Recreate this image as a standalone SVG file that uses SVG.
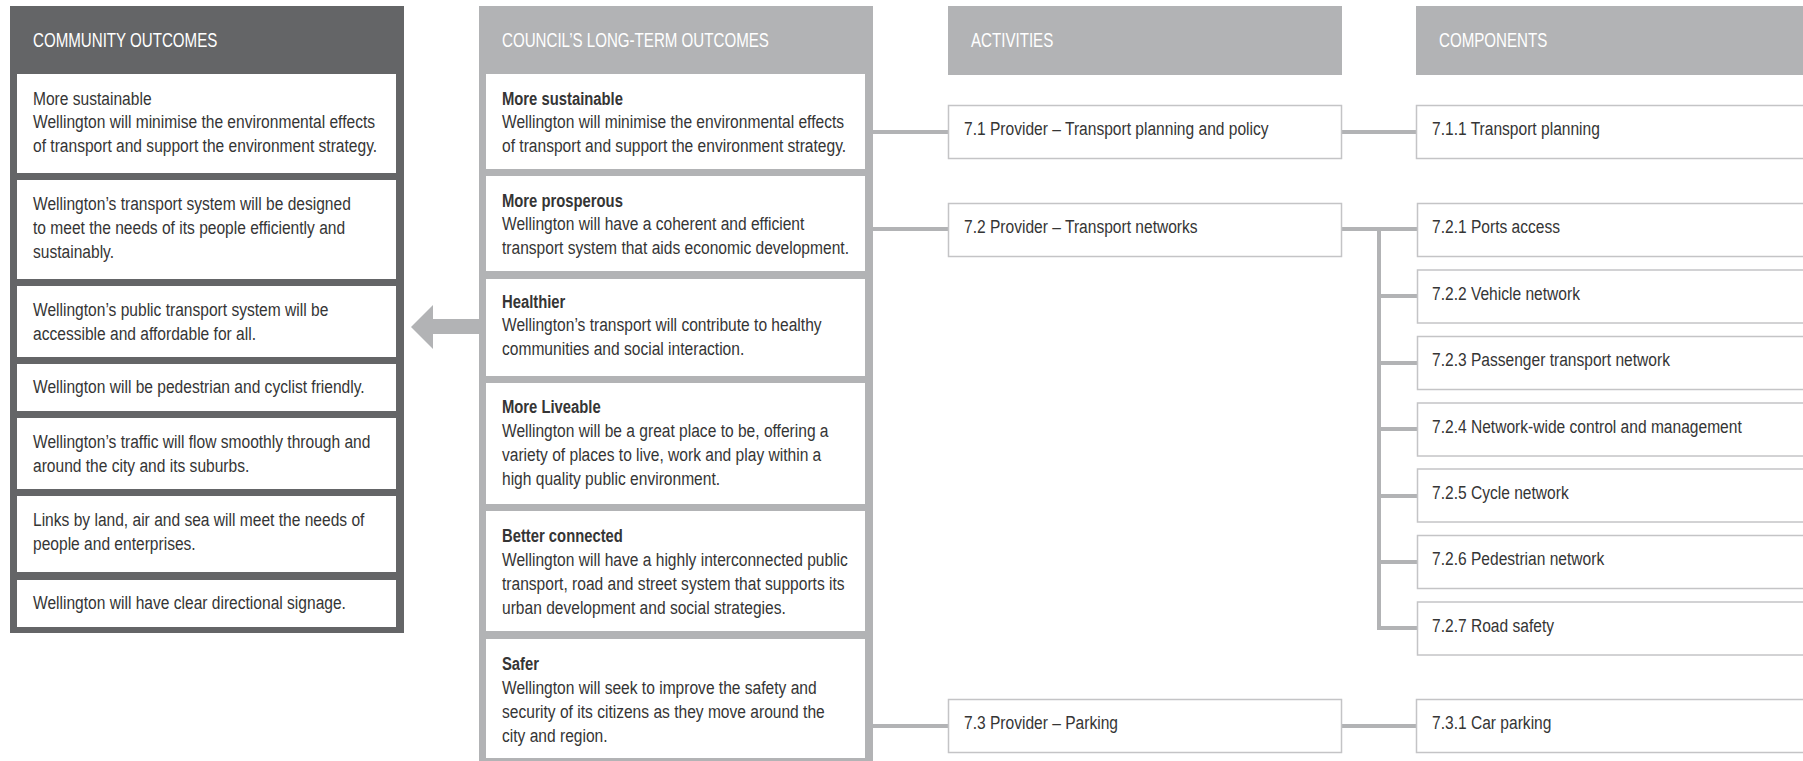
<svg xmlns="http://www.w3.org/2000/svg" width="1803" height="761" viewBox="0 0 1803 761">
<style>
text{font-family:"Liberation Sans",Arial,sans-serif;font-size:19px;fill:#353535;transform:scaleX(0.82);transform-box:fill-box;transform-origin:0 0}
.hd{font-size:21px;fill:#ffffff;transform:scaleX(0.72)}
.b{font-weight:bold;transform:scaleX(0.78)}
.wb{fill:#ffffff}
.box{fill:#ffffff;stroke:#c4c4c6;stroke-width:1.5}
.con{stroke:#b2b3b5;stroke-width:4;fill:none}
</style>
<rect width="1803" height="761" fill="#ffffff"/>

<g id="community-outcomes">
<rect x="10" y="6" width="394" height="627" fill="#646567"/>
<text class="hd" x="33" y="47">COMMUNITY OUTCOMES</text>
<rect class="wb" x="17" y="74" width="379" height="99"/>
<text x="33" y="105">More sustainable</text>
<text x="33" y="128.5">Wellington will minimise the environmental effects</text>
<text x="33" y="152">of transport and support the environment strategy.</text>
<rect class="wb" x="17" y="180" width="379" height="99"/>
<text x="33" y="210">Wellington’s transport system will be designed</text>
<text x="33" y="234">to meet the needs of its people efficiently and</text>
<text x="33" y="258">sustainably.</text>
<rect class="wb" x="17" y="286" width="379" height="71"/>
<text x="33" y="316">Wellington’s public transport system will be</text>
<text x="33" y="340">accessible and affordable for all.</text>
<rect class="wb" x="17" y="364" width="379" height="47"/>
<text x="33" y="393">Wellington will be pedestrian and cyclist friendly.</text>
<rect class="wb" x="17" y="418" width="379" height="71"/>
<text x="33" y="448">Wellington’s traffic will flow smoothly through and</text>
<text x="33" y="472">around the city and its suburbs.</text>
<rect class="wb" x="17" y="496" width="379" height="76"/>
<text x="33" y="526">Links by land, air and sea will meet the needs of</text>
<text x="33" y="550">people and enterprises.</text>
<rect class="wb" x="17" y="580" width="379" height="47"/>
<text x="33" y="609">Wellington will have clear directional signage.</text>
</g>

<g id="council-outcomes">
<rect x="479" y="6" width="394" height="760" fill="#b2b3b5"/>
<text class="hd" x="502" y="47">COUNCIL’S LONG-TERM OUTCOMES</text>
<rect class="wb" x="486" y="74" width="379" height="95"/>
<text class="b" x="502" y="105">More sustainable</text>
<text x="502" y="128.5">Wellington will minimise the environmental effects</text>
<text x="502" y="152">of transport and support the environment strategy.</text>
<rect class="wb" x="486" y="176" width="379" height="95"/>
<text class="b" x="502" y="207">More prosperous</text>
<text x="502" y="230.5">Wellington will have a coherent and efficient</text>
<text x="502" y="254">transport system that aids economic development.</text>
<rect class="wb" x="486" y="279" width="379" height="97"/>
<text class="b" x="502" y="308">Healthier</text>
<text x="502" y="331.5">Wellington’s transport will contribute to healthy</text>
<text x="502" y="355">communities and social interaction.</text>
<rect class="wb" x="486" y="383" width="379" height="121"/>
<text class="b" x="502" y="413">More Liveable</text>
<text x="502" y="437">Wellington will be a great place to be, offering a</text>
<text x="502" y="461">variety of places to live, work and play within a</text>
<text x="502" y="485">high quality public environment.</text>
<rect class="wb" x="486" y="511" width="379" height="120"/>
<text class="b" x="502" y="542">Better connected</text>
<text x="502" y="566">Wellington will have a highly interconnected public</text>
<text x="502" y="590">transport, road and street system that supports its</text>
<text x="502" y="614">urban development and social strategies.</text>
<rect class="wb" x="486" y="639" width="379" height="119"/>
<text class="b" x="502" y="670">Safer</text>
<text x="502" y="694">Wellington will seek to improve the safety and</text>
<text x="502" y="718">security of its citizens as they move around the</text>
<text x="502" y="742">city and region.</text>
</g>

<g id="activities-header">
<rect x="948" y="6" width="394" height="69" fill="#b2b3b5"/>
<text class="hd" x="971" y="47">ACTIVITIES</text>
</g>
<g id="components-header">
<rect x="1416" y="6" width="400" height="69" fill="#b2b3b5"/>
<text class="hd" x="1439" y="47">COMPONENTS</text>
</g>

<g id="connectors">
<polygon points="411,327 433,305 433,319 479,319 479,334 433,334 433,349" fill="#b2b3b5"/>
<path class="con" d="M873 132H948M873 229H948M873 726H948"/>
<path class="con" d="M1342 132H1416M1342 229H1417M1342 726H1416"/>
<path class="con" d="M1379 229V630M1379 296H1417M1379 363H1417M1379 429H1417M1379 496H1417M1379 562H1417M1379 628H1417"/>
</g>

<g id="act-7-1"><rect class="box" x="948.5" y="105.5" width="393" height="53"/><text x="964" y="135">7.1 Provider – Transport planning and policy</text></g>
<g id="act-7-2"><rect class="box" x="948.5" y="203.5" width="393" height="53"/><text x="964" y="233">7.2 Provider – Transport networks</text></g>
<g id="act-7-3"><rect class="box" x="948.5" y="699.5" width="393" height="53"/><text x="964" y="729">7.3 Provider – Parking</text></g>

<g id="comp-7-1-1"><rect class="box" x="1416.5" y="105.5" width="400" height="53"/><text x="1432" y="135">7.1.1 Transport planning</text></g>
<g id="comp-7-2-1"><rect class="box" x="1417.5" y="203.5" width="400" height="53"/><text x="1432" y="233">7.2.1 Ports access</text></g>
<g id="comp-7-2-2"><rect class="box" x="1417.5" y="270" width="400" height="53"/><text x="1432" y="300">7.2.2 Vehicle network</text></g>
<g id="comp-7-2-3"><rect class="box" x="1417.5" y="336.5" width="400" height="53"/><text x="1432" y="366">7.2.3 Passenger transport network</text></g>
<g id="comp-7-2-4"><rect class="box" x="1417.5" y="403" width="400" height="53"/><text x="1432" y="433">7.2.4 Network-wide control and management</text></g>
<g id="comp-7-2-5"><rect class="box" x="1417.5" y="469" width="400" height="53"/><text x="1432" y="499">7.2.5 Cycle network</text></g>
<g id="comp-7-2-6"><rect class="box" x="1417.5" y="535.5" width="400" height="53"/><text x="1432" y="565">7.2.6 Pedestrian network</text></g>
<g id="comp-7-2-7"><rect class="box" x="1417.5" y="602" width="400" height="53"/><text x="1432" y="632">7.2.7 Road safety</text></g>
<g id="comp-7-3-1"><rect class="box" x="1416.5" y="699.5" width="400" height="53"/><text x="1432" y="729">7.3.1 Car parking</text></g>
</svg>
